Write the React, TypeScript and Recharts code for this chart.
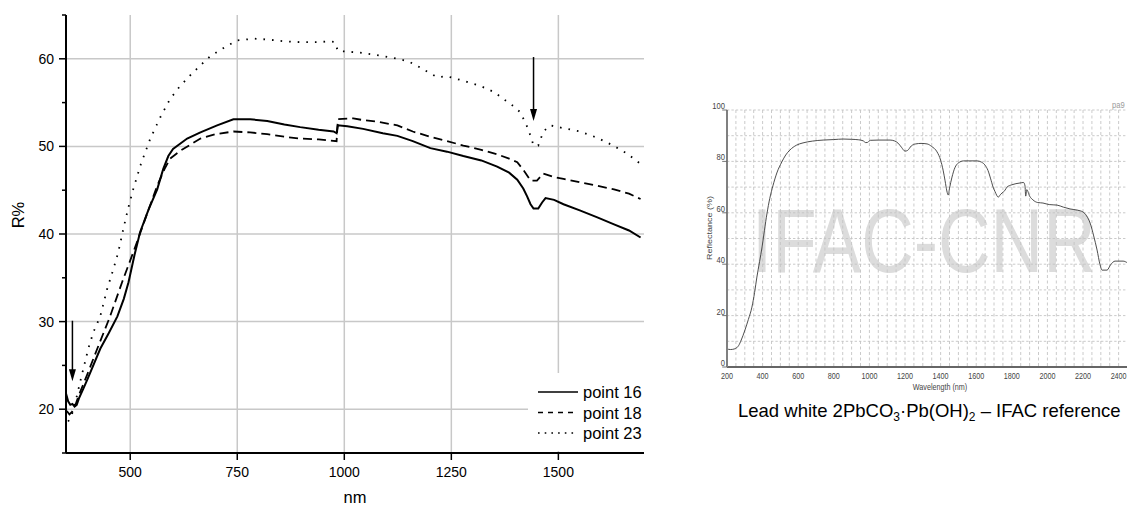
import React from 'react';
import { LineChart, Line, XAxis, YAxis, CartesianGrid, Legend, ReferenceLine, ReferenceDot, Label } from 'recharts';

// ---------- Left chart data ----------
const leftXTicks = [500, 750, 1000, 1250, 1500];
const leftYTicks = [15, 20, 25, 30, 35, 40, 45, 50, 55, 60, 65];
const leftGridY = [20, 30, 40, 50, 60];
const seriesNames = ['point 16', 'point 18', 'point 23'];

const point16: [number, number][] = [
  [350, 21.8], [355, 20.9], [360, 20.5], [365, 20.6], [370, 20.3], [375, 20.5], [380, 21.2], [390, 22.3],
  [400, 23.4], [430, 26.9], [450, 28.7], [470, 30.6], [485, 32.6], [496, 34.5], [510, 37.6], [523, 40.2],
  [543, 42.8], [563, 45.1], [577, 47.4], [589, 48.9], [600, 49.7], [633, 50.9], [664, 51.6], [703, 52.4],
  [741, 53.1], [780, 53.1], [820, 52.9], [860, 52.5], [897, 52.2], [940, 51.9], [975, 51.7], [982, 51.5],
  [985, 52.4], [1007, 52.3], [1044, 52.0], [1090, 51.5], [1124, 51.2], [1160, 50.6], [1201, 49.8],
  [1240, 49.4], [1278, 48.9], [1320, 48.4], [1357, 47.7], [1385, 47.0], [1404, 46.2], [1418, 45.2],
  [1427, 44.3], [1435, 43.4], [1442, 42.9], [1453, 42.9], [1462, 43.6], [1470, 44.1], [1490, 43.9],
  [1512, 43.4], [1550, 42.7], [1591, 41.9], [1630, 41.1], [1665, 40.4], [1692, 39.6],
];

const point18: [number, number][] = [
  [352, 19.8], [358, 19.4], [364, 19.7], [370, 20.2], [380, 21.6], [400, 24.0], [423, 26.9], [453, 30.6],
  [481, 34.5], [504, 37.5], [516, 39.1], [540, 42.4], [563, 45.5], [580, 47.4], [593, 48.6], [617, 49.5],
  [664, 50.9], [700, 51.4], [741, 51.7], [780, 51.6], [820, 51.4], [860, 51.1], [897, 50.9], [940, 50.8],
  [982, 50.6], [985, 53.1], [1021, 53.2], [1044, 53.0], [1080, 52.8], [1124, 52.4], [1160, 51.7],
  [1201, 51.1], [1240, 50.6], [1278, 50.1], [1320, 49.6], [1357, 49.1], [1385, 48.6], [1404, 48.2],
  [1420, 47.2], [1435, 46.1], [1450, 46.1], [1465, 46.9], [1490, 46.5], [1512, 46.3], [1550, 45.9],
  [1591, 45.5], [1630, 45.1], [1665, 44.6], [1692, 44.0],
];

const point23: [number, number][] = [
  [355, 18.6], [360, 19.0], [365, 19.6], [372, 20.8], [383, 23.1], [402, 26.9], [414, 28.8], [430, 30.6],
  [446, 33.7], [460, 35.9], [472, 37.9], [484, 40.6], [495, 42.9], [507, 45.1], [525, 48.0], [547, 50.9],
  [570, 53.3], [593, 55.4], [615, 56.8], [640, 58.1], [665, 59.3], [687, 60.3], [720, 61.3], [750, 62.1],
  [790, 62.3], [820, 62.2], [860, 62.0], [897, 61.9], [940, 61.9], [965, 62.0], [978, 61.9], [985, 60.9],
  [1037, 60.7], [1080, 60.4], [1124, 60.0], [1150, 59.7], [1170, 59.2], [1195, 58.5], [1217, 57.9],
  [1240, 58.0], [1270, 57.6], [1318, 56.9], [1350, 56.2], [1372, 55.4], [1395, 54.6], [1411, 53.9],
  [1425, 52.5], [1435, 51.2], [1442, 50.1], [1453, 50.1], [1465, 51.7], [1481, 52.4], [1510, 52.1],
  [1551, 51.7], [1590, 51.0], [1628, 50.1], [1660, 49.2], [1692, 48.0],
];

const arrows = [
  { x: 365, yFrom: 30.1, yTo: 23.2 },
  { x: 1442, yFrom: 60.2, yTo: 52.9 },
];

// ---------- Right chart data (IFAC reference) ----------
const ifacXTicks = [200, 400, 600, 800, 1000, 1200, 1400, 1600, 1800, 2000, 2200, 2400];
const ifacYTicks = [0, 20, 40, 60, 80, 100];
const ifacGridY = [10, 20, 30, 40, 50, 60, 70, 80, 90, 100];
const ifacGridX = Array.from({ length: 45 }, (_, i) => 250 + i * 50);

const ifacLeadWhite: [number, number][] = [
  [200, 7.0], [220, 6.8], [240, 7.0], [255, 7.5], [265, 8.3], [280, 10.5], [301, 14.4], [320, 18.5],
  [340, 23.3], [355, 29.0], [368, 35.0], [383, 41.0], [397, 46.7], [410, 53.0], [425, 59.9], [440, 65.5],
  [458, 70.5], [480, 75.5], [508, 79.8], [530, 82.5], [553, 84.4], [590, 86.3], [627, 87.2], [680, 87.9],
  [740, 88.3], [800, 88.5], [852, 88.7], [900, 88.6], [940, 88.4], [965, 88.0], [980, 87.3], [990, 87.4],
  [1005, 88.2], [1050, 88.3], [1116, 88.3], [1140, 88.0], [1161, 87.1], [1180, 85.5], [1200, 84.0],
  [1215, 84.3], [1235, 86.0], [1260, 86.8], [1290, 87.0], [1324, 86.8], [1350, 85.8], [1380, 83.7],
  [1400, 80.5], [1414, 76.6], [1425, 72.5], [1435, 68.5], [1443, 66.9], [1450, 69.5], [1464, 73.9],
  [1480, 77.5], [1500, 79.4], [1530, 80.2], [1560, 80.2], [1604, 80.2], [1630, 79.7], [1650, 78.5],
  [1666, 76.5], [1680, 73.5], [1695, 70.0], [1706, 68.2], [1724, 66.1], [1735, 67.0], [1745, 67.7],
  [1760, 68.6], [1773, 70.0], [1800, 70.9], [1846, 71.6], [1866, 71.8], [1874, 70.5], [1878, 66.5],
  [1884, 69.0], [1900, 66.5], [1919, 65.0], [1945, 64.0], [1975, 63.8], [2010, 63.2], [2054, 63.0],
  [2090, 62.2], [2127, 61.5], [2170, 61.0], [2200, 60.3], [2220, 58.8], [2240, 56.0], [2260, 51.0],
  [2279, 45.5], [2295, 40.0], [2307, 37.7], [2335, 37.7], [2355, 39.8], [2380, 41.2], [2425, 41.2],
  [2450, 40.5],
];

const toRows = (a: [number, number][]) => a.map(([x, y]) => ({ x, y }));

const FONT = "'Liberation Sans', Arial, sans-serif";

const seriesStyles = [
  { width: 2, dash: undefined as string | undefined, legendDash: undefined as string | undefined },
  { width: 1.8, dash: '9 5', legendDash: '5 5' },
  { width: 1.8, dash: '1.6 7', legendDash: '1.6 5.1' },
];

const LeftYTick = (props: any) => {
  const { x, y, payload } = props;
  const v = payload.value as number;
  const major = v % 10 === 0;
  return (
    <g>
      <line x1={x - (major ? 7 : 4)} x2={x} y1={y} y2={y} stroke="#000" strokeWidth={1.5} />
      {major && (
        <text x={x - 12} y={y + 5} textAnchor="end" fontSize={14} fontFamily={FONT} fill="#000">
          {v}
        </text>
      )}
    </g>
  );
};

const LeftLegend = () => (
  <svg width={116} height={78} style={{ display: 'block' }}>
    {seriesNames.map((n, i) => {
      const cy = 19 + i * 20.5;
      return (
        <g key={n}>
          <line x1={10} x2={50} y1={cy} y2={cy} stroke="#000" strokeWidth={1.6} strokeDasharray={seriesStyles[i].legendDash} />
          <text x={55} y={cy + 6} fontSize={16.5} fontFamily={FONT} fill="#000">{n}</text>
        </g>
      );
    })}
  </svg>
);

const RYTick = (props: any) => {
  const { x, y, payload } = props;
  return (
    <g>
      <line x1={x - 6} x2={x} y1={y} y2={y} stroke="#666" strokeWidth={1} />
      <text x={x - 2.5} y={y - 1} textAnchor="end" fontSize={9.5} fontFamily={FONT} fill="#444">
        {payload.value}
      </text>
    </g>
  );
};

const RXTick = (props: any) => {
  const { x, y, payload } = props;
  return (
    <text x={x} y={y + 12} textAnchor="middle" fontSize={9} fontFamily={FONT} fill="#444">
      {payload.value}
    </text>
  );
};

export default function App() {
  const rows16 = toRows(point16);
  const rows18 = toRows(point18);
  const rows23 = toRows(point23);
  const rowsIfac = toRows(ifacLeadWhite);
  const leftRows = [rows16, rows18, rows23];

  return (
    <div style={{ position: 'absolute', left: 0, top: 0, width: 1127, height: 507, overflow: 'hidden', background: '#fff' }}>
      {/* Left chart */}
      <div style={{ position: 'absolute', left: 0, top: 0 }}>
        <LineChart width={660} height={507} margin={{ top: 15, right: 16, bottom: 0, left: 0 }}>
          <CartesianGrid
            stroke="#c8c8c8"
            strokeWidth={1.5}
            horizontalValues={leftGridY}
            verticalValues={leftXTicks}
          />
          <XAxis
            type="number"
            dataKey="x"
            domain={[350, 1700]}
            ticks={leftXTicks}
            interval={0}
            allowDataOverflow
            height={54}
            tickSize={7}
            tickMargin={7}
            tick={{ fontSize: 14, fill: '#000', fontFamily: FONT }}
            tickLine={{ stroke: '#000', strokeWidth: 1.5 }}
            axisLine={{ stroke: '#000', strokeWidth: 2 }}
          >
            <Label
              content={(p: any) => {
                const vb = p.viewBox || { x: 66, y: 453, width: 578, height: 54 };
                return (
                  <text x={vb.x + vb.width / 2} y={vb.y + 50} textAnchor="middle" fontSize={16.5} fontFamily={FONT} fill="#000">
                    nm
                  </text>
                );
              }}
            />
          </XAxis>
          <YAxis
            type="number"
            domain={[15, 65]}
            ticks={leftYTicks}
            interval={0}
            allowDataOverflow
            width={66}
            tickSize={0}
            tickMargin={0}
            tickLine={false}
            tick={<LeftYTick />}
            axisLine={{ stroke: '#000', strokeWidth: 2 }}
          >
            <Label
              content={(p: any) => {
                const vb = p.viewBox || { x: 0, y: 15, width: 66, height: 438 };
                const cx = vb.x + 18;
                const cy = vb.y + 200;
                return (
                  <text x={cx} y={cy} transform={`rotate(-90 ${cx} ${cy})`} textAnchor="middle" dy={6} fontSize={16.5} fontFamily={FONT} fill="#000">
                    R%
                  </text>
                );
              }}
            />
          </YAxis>
          {leftRows.map((rows, i) => (
            <Line
              key={seriesNames[i]}
              data={rows}
              dataKey="y"
              name={seriesNames[i]}
              type="linear"
              stroke="#000"
              strokeWidth={seriesStyles[i].width}
              strokeDasharray={seriesStyles[i].dash}
              dot={false}
              activeDot={false}
              isAnimationActive={false}
            />
          ))}
          {arrows.map((a, i) => (
            <ReferenceLine
              key={`al${i}`}
              segment={[{ x: a.x, y: a.yFrom }, { x: a.x, y: a.yTo + 0.6 }]}
              stroke="#000"
              strokeWidth={1.5}
            />
          ))}
          {arrows.map((a, i) => (
            <ReferenceDot
              key={`ad${i}`}
              x={a.x}
              y={a.yTo}
              r={3}
              shape={(p: any) => (
                <polygon
                  points={`${p.cx},${p.cy} ${p.cx - 3.5},${p.cy - 12} ${p.cx + 3.5},${p.cy - 12}`}
                  fill="#000"
                />
              )}
            />
          ))}
          <Legend
            layout="horizontal"
            verticalAlign="middle"
            align="center"
            width={116}
            height={78}
            wrapperStyle={{ left: 528, top: 373, width: 116, height: 78, backgroundColor: '#fff' }}
            content={() => <LeftLegend />}
          />
        </LineChart>
      </div>

      {/* Right chart (reference image, horizontally compressed) */}
      <div
        style={{
          position: 'absolute',
          left: 680,
          top: 90,
          width: 560,
          height: 305,
          transform: 'scaleX(0.8)',
          transformOrigin: '0 0',
        }}
      >
        <svg width={560} height={305} style={{ position: 'absolute', left: 0, top: 0 }}>
          <text x={90} y={182} fontSize={91} fontFamily={FONT} fill="#dcdcdc">IFAC-CNR</text>
          <text x={540} y={18} fontSize={9.5} fontFamily={FONT} fill="#9a9a9a">pa9</text>
        </svg>
        <div style={{ position: 'absolute', left: 0, top: 0 }}>
          <LineChart width={560} height={305} margin={{ top: 20, right: 0.6, bottom: 0, left: 0 }}>
            <CartesianGrid
              stroke="#c4c4c4"
              strokeDasharray="3 2.5"
              strokeWidth={1}
              horizontalValues={ifacGridY}
              verticalValues={ifacGridX}
            />
            <XAxis
              type="number"
              dataKey="x"
              domain={[200, 2450]}
              ticks={ifacXTicks}
              interval={0}
              allowDataOverflow
              height={28}
              tickSize={0}
              tickMargin={0}
              tickLine={false}
              tick={<RXTick />}
              axisLine={{ stroke: '#333', strokeWidth: 1.5 }}
            >
              <Label
                content={() => (
                  <text x={325} y={300} textAnchor="middle" fontSize={9} fontFamily={FONT} fill="#444">
                    Wavelength (nm)
                  </text>
                )}
              />
            </XAxis>
            <YAxis
              type="number"
              domain={[0, 100]}
              ticks={ifacYTicks}
              interval={0}
              allowDataOverflow
              width={58.75}
              tickSize={0}
              tickMargin={0}
              tickLine={false}
              tick={<RYTick />}
              axisLine={{ stroke: '#808080', strokeWidth: 2.5 }}
            >
              <Label
                content={() => (
                  <text x={37.5} y={138} transform="rotate(-90 37.5 138)" textAnchor="middle" dy={3} fontSize={9} fontFamily={FONT} fill="#444">
                    Reflectance (%)
                  </text>
                )}
              />
            </YAxis>
            <Line
              data={rowsIfac}
              dataKey="y"
              type="monotone"
              stroke="#3a3a3a"
              strokeWidth={1}
              dot={false}
              activeDot={false}
              isAnimationActive={false}
            />
          </LineChart>
        </div>
      </div>

      {/* Caption */}
      <svg width={437} height={40} style={{ position: 'absolute', left: 690, top: 390 }}>
        <text x={48} y={27} fontSize={18.5} fontFamily={FONT} fill="#000">
          Lead white 2PbCO<tspan dy={4} fontSize={12}>3</tspan>
          <tspan dy={-4}>·Pb(OH)</tspan>
          <tspan dy={4} fontSize={12}>2</tspan>
          <tspan dy={-4}> – IFAC reference</tspan>
        </text>
      </svg>
    </div>
  );
}
